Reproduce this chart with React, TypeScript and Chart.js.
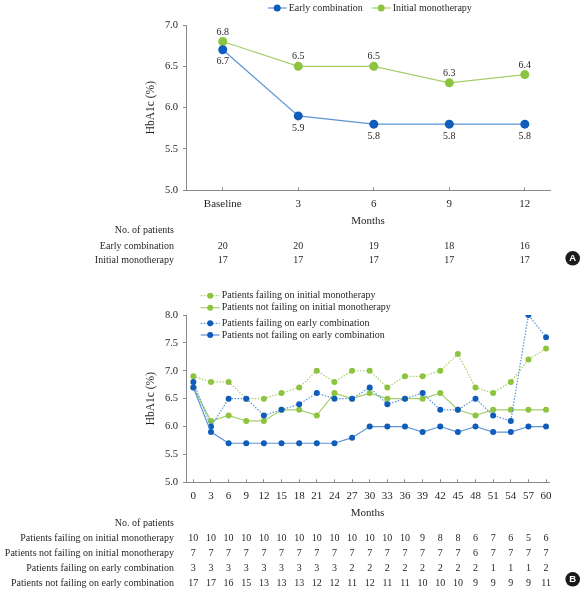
import React, { useEffect, useRef } from "react";
import { Chart, registerables } from "chart.js";
Chart.register(...registerables);

// ---------- data ----------
const monthsA = [0, 3, 6, 9, 12];
const monthLabelsA = ["Baseline", "3", "6", "9", "12"];
const earlyCombination = [6.7, 5.9, 5.8, 5.8, 5.8];
const initialMonotherapy = [6.8, 6.5, 6.5, 6.3, 6.4];
const patientsEarlyA = [20, 20, 19, 18, 16];
const patientsInitialA = [17, 17, 17, 17, 17];

const monthsB = [0, 3, 6, 9, 12, 15, 18, 21, 24, 27, 30, 33, 36, 39, 42, 45, 48, 51, 54, 57, 60];
const failInitial = [6.9, 6.8, 6.8, 6.5, 6.5, 6.6, 6.7, 7.0, 6.8, 7.0, 7.0, 6.7, 6.9, 6.9, 7.0, 7.3, 6.7, 6.6, 6.8, 7.2, 7.4];
const notFailInitial = [6.7, 6.1, 6.2, 6.1, 6.1, 6.3, 6.3, 6.2, 6.6, 6.5, 6.6, 6.5, 6.5, 6.5, 6.6, 6.3, 6.2, 6.3, 6.3, 6.3, 6.3];
const failEarly = [6.8, 6.0, 6.5, 6.5, 6.2, 6.3, 6.4, 6.6, 6.5, 6.5, 6.7, 6.4, 6.5, 6.6, 6.3, 6.3, 6.5, 6.2, 6.1, 8.0, 7.6];
const notFailEarly = [6.7, 5.9, 5.7, 5.7, 5.7, 5.7, 5.7, 5.7, 5.7, 5.8, 6.0, 6.0, 6.0, 5.9, 6.0, 5.9, 6.0, 5.9, 5.9, 6.0, 6.0];

const nFailInitial = [10, 10, 10, 10, 10, 10, 10, 10, 10, 10, 10, 10, 10, 9, 8, 8, 6, 7, 6, 5, 6];
const nNotFailInitial = [7, 7, 7, 7, 7, 7, 7, 7, 7, 7, 7, 7, 7, 7, 7, 7, 6, 7, 7, 7, 7];
const nFailEarly = [3, 3, 3, 3, 3, 3, 3, 3, 3, 2, 2, 2, 2, 2, 2, 2, 2, 1, 1, 1, 2];
const nNotFailEarly = [17, 17, 16, 15, 13, 13, 13, 12, 12, 11, 12, 11, 11, 10, 10, 10, 9, 9, 9, 9, 11];

const yTicks = [5.0, 5.5, 6.0, 6.5, 7.0, 7.5, 8.0];

// ---------- styles ----------
const FONT = "'Liberation Serif', 'DejaVu Serif', serif";
const TEXT = "#231f20";
const AXIS = "#8a8a8a";
const BLUE_PT = "#0f5cba";
const BLUE_LN = "#5a94d6";
const GREEN_PT = "#8cc43f";
const GREEN_LN = "#a6cf6c";

function drawLegendItem(ctx: CanvasRenderingContext2D, x0: number, y: number, lineColor: string, ptColor: string, dashed: boolean, text: string, r: number) {
  ctx.save();
  ctx.strokeStyle = lineColor;
  ctx.lineWidth = 1.2;
  ctx.setLineDash(dashed ? [1.5, 1.5] : []);
  ctx.beginPath();
  ctx.moveTo(x0, y);
  ctx.lineTo(x0 + 19, y);
  ctx.stroke();
  ctx.setLineDash([]);
  ctx.fillStyle = ptColor;
  ctx.beginPath();
  ctx.arc(x0 + 9.5, y, r, 0, Math.PI * 2);
  ctx.fill();
  ctx.fillStyle = TEXT;
  ctx.font = `10px ${FONT}`;
  ctx.textAlign = "left";
  ctx.textBaseline = "middle";
  ctx.fillText(text, x0 + 21, y);
  ctx.restore();
}

function drawBadge(ctx: CanvasRenderingContext2D, x: number, y: number, letter: string) {
  ctx.save();
  ctx.fillStyle = "#1a1a1a";
  ctx.beginPath();
  ctx.arc(x, y, 7.3, 0, Math.PI * 2);
  ctx.fill();
  ctx.fillStyle = "#ffffff";
  ctx.font = `bold 9.5px 'Liberation Sans', 'DejaVu Sans', sans-serif`;
  ctx.textAlign = "center";
  ctx.textBaseline = "middle";
  ctx.fillText(letter, x, y + 0.5);
  ctx.restore();
}

function drawTable(chart: any, months: number[], header: number, rows: { label: string; values: number[]; y: number }[]) {
  const ctx = chart.ctx as CanvasRenderingContext2D;
  const xs = chart.scales.x;
  ctx.save();
  ctx.fillStyle = TEXT;
  ctx.font = `10px ${FONT}`;
  ctx.textBaseline = "middle";
  ctx.textAlign = "right";
  ctx.fillText("No. of patients", 174, header);
  rows.forEach((r) => {
    ctx.textAlign = "right";
    ctx.fillText(r.label, 174, r.y);
    ctx.textAlign = "center";
    r.values.forEach((v, i) => {
      ctx.fillText(String(v), xs.getPixelForValue(months[i]), r.y);
    });
  });
  ctx.restore();
}

const topPlugin = {
  id: "topDecor",
  afterDatasetsDraw(chart: any) {
    const ctx = chart.ctx as CanvasRenderingContext2D;
    ctx.save();
    ctx.font = `10px ${FONT}`;
    ctx.fillStyle = TEXT;
    ctx.textAlign = "center";
    ctx.textBaseline = "middle";
    chart.data.datasets.forEach((ds: any, di: number) => {
      const meta = chart.getDatasetMeta(di);
      meta.data.forEach((pt: any, i: number) => {
        const v = ds.data[i].y;
        const dy = di === 0 ? 12 : -9.5;
        ctx.fillText(v.toFixed(1), pt.x, pt.y + dy);
      });
    });
    ctx.restore();
  },
  afterDraw(chart: any) {
    const ctx = chart.ctx as CanvasRenderingContext2D;
    drawLegendItem(ctx, 267.7, 8, BLUE_LN, BLUE_PT, false, "Early combination", 3.5);
    drawLegendItem(ctx, 371.7, 8, GREEN_LN, GREEN_PT, false, "Initial monotherapy", 3.5);
    drawTable(chart, monthsA, 230, [
      { label: "Early combination", values: patientsEarlyA, y: 246 },
      { label: "Initial monotherapy", values: patientsInitialA, y: 260.5 },
    ]);
    drawBadge(ctx, 572.7, 258.3, "A");
  },
};

const bottomPlugin = {
  id: "bottomDecor",
  afterDraw(chart: any) {
    const ctx = chart.ctx as CanvasRenderingContext2D;
    drawLegendItem(ctx, 200.7, 15.7, GREEN_LN, GREEN_PT, true, "Patients failing on initial monotherapy", 3);
    drawLegendItem(ctx, 200.7, 27.7, GREEN_LN, GREEN_PT, false, "Patients not failing on initial monotherapy", 3);
    drawLegendItem(ctx, 200.7, 43.3, BLUE_LN, BLUE_PT, true, "Patients failing on early combination", 3);
    drawLegendItem(ctx, 200.7, 55, BLUE_LN, BLUE_PT, false, "Patients not failing on early combination", 3);
    drawTable(chart, monthsB, 243.3, [
      { label: "Patients failing on initial monotherapy", values: nFailInitial, y: 258.4 },
      { label: "Patients not failing on initial monotherapy", values: nNotFailInitial, y: 273.2 },
      { label: "Patients failing on early combination", values: nFailEarly, y: 288.3 },
      { label: "Patients not failing on early combination", values: nNotFailEarly, y: 303.3 },
    ]);
    drawBadge(ctx, 572.7, 299.3, "B");
  },
};

function yScale(max: number, titleSize: number) {
  return {
    type: "linear",
    min: 5,
    max,
    afterBuildTicks: (s: any) => {
      s.ticks = yTicks.filter((v) => v <= max).map((v) => ({ value: v }));
    },
    afterFit: (s: any) => {
      s.width = 46;
    },
    grid: { drawOnChartArea: false, drawTicks: true, tickLength: 3, color: AXIS, lineWidth: 1 },
    border: { display: true, color: AXIS, width: 1 },
    ticks: {
      padding: 5,
      color: TEXT,
      font: { family: FONT, size: 10.5 },
      callback: (v: any) => Number(v).toFixed(1),
    },
    title: {
      display: true,
      text: "HbA1c (%)",
      color: TEXT,
      font: { family: FONT, size: titleSize },
      padding: { top: 4, bottom: 4 },
    },
  };
}

function xScale(min: number, max: number, months: number[], labels: string[] | null, height: number) {
  return {
    type: "linear",
    min,
    max,
    afterBuildTicks: (s: any) => {
      s.ticks = months.map((v) => ({ value: v }));
    },
    afterFit: (s: any) => {
      s.height = height;
    },
    grid: { drawOnChartArea: false, drawTicks: true, tickLength: -3, color: AXIS, lineWidth: 1 },
    border: { display: true, color: AXIS, width: 1 },
    ticks: {
      padding: 10,
      color: TEXT,
      autoSkip: false,
      maxRotation: 0,
      font: { family: FONT, size: 11 },
      callback: (v: any) => {
        const i = months.indexOf(Number(v));
        return labels ? labels[i] : String(v);
      },
    },
    title: {
      display: true,
      text: "Months",
      color: TEXT,
      font: { family: FONT, size: 11 },
      padding: { top: 0, bottom: 0 },
    },
  };
}

function lineDs(label: string, months: number[], values: number[], ln: string, pt: string, dashed: boolean, r: number) {
  return {
    label,
    data: months.map((m, i) => ({ x: m, y: values[i] })),
    borderColor: ln,
    backgroundColor: pt,
    pointBackgroundColor: pt,
    pointBorderColor: pt,
    pointBorderWidth: 0,
    pointRadius: r,
    borderWidth: 1.2,
    borderDash: dashed ? [1.5, 1.5] : [],
    tension: 0,
    fill: false,
  };
}

export default function App() {
  const topRef = useRef<HTMLCanvasElement>(null);
  const botRef = useRef<HTMLCanvasElement>(null);

  useEffect(() => {
    const top = new Chart(topRef.current as HTMLCanvasElement, {
      type: "line",
      data: {
        datasets: [
          lineDs("Early combination", monthsA, earlyCombination, BLUE_LN, BLUE_PT, false, 4.5),
          lineDs("Initial monotherapy", monthsA, initialMonotherapy, GREEN_LN, GREEN_PT, false, 4.5),
        ] as any,
      },
      options: {
        animation: false,
        responsive: false,
        devicePixelRatio: 1,
        layout: { padding: { left: 140, right: 37, top: 25, bottom: 52.4 } },
        plugins: { legend: { display: false }, tooltip: { enabled: false } },
        scales: {
          x: xScale(-1.46, 13, monthsA, monthLabelsA, 37.3) as any,
          y: yScale(7, 11.5) as any,
        },
      },
      plugins: [topPlugin],
    });

    const bottom = new Chart(botRef.current as HTMLCanvasElement, {
      type: "line",
      data: {
        datasets: [
          lineDs("Patients not failing on early combination", monthsB, notFailEarly, BLUE_LN, BLUE_PT, false, 3),
          lineDs("Patients failing on early combination", monthsB, failEarly, BLUE_LN, BLUE_PT, true, 3),
          lineDs("Patients not failing on initial monotherapy", monthsB, notFailInitial, GREEN_LN, GREEN_PT, false, 3),
          lineDs("Patients failing on initial monotherapy", monthsB, failInitial, GREEN_LN, GREEN_PT, true, 3),
        ] as any,
      },
      options: {
        animation: false,
        responsive: false,
        devicePixelRatio: 1,
        layout: { padding: { left: 140, right: 38, top: 35, bottom: 75.1 } },
        plugins: { legend: { display: false }, tooltip: { enabled: false } },
        scales: {
          x: xScale(-1.25, 60.5, monthsB, null, 37.6) as any,
          y: yScale(8, 11.5) as any,
        },
      },
      plugins: [bottomPlugin],
    });

    return () => {
      top.destroy();
      bottom.destroy();
    };
  }, []);

  return (
    <div style={{ position: "fixed", left: 0, top: 0, width: 587, height: 595, background: "#fff" }}>
      <canvas ref={topRef} width={587} height={280} style={{ position: "absolute", left: 0, top: 0, width: 587, height: 280 }} />
      <canvas ref={botRef} width={587} height={315} style={{ position: "absolute", left: 0, top: 280, width: 587, height: 315 }} />
    </div>
  );
}
